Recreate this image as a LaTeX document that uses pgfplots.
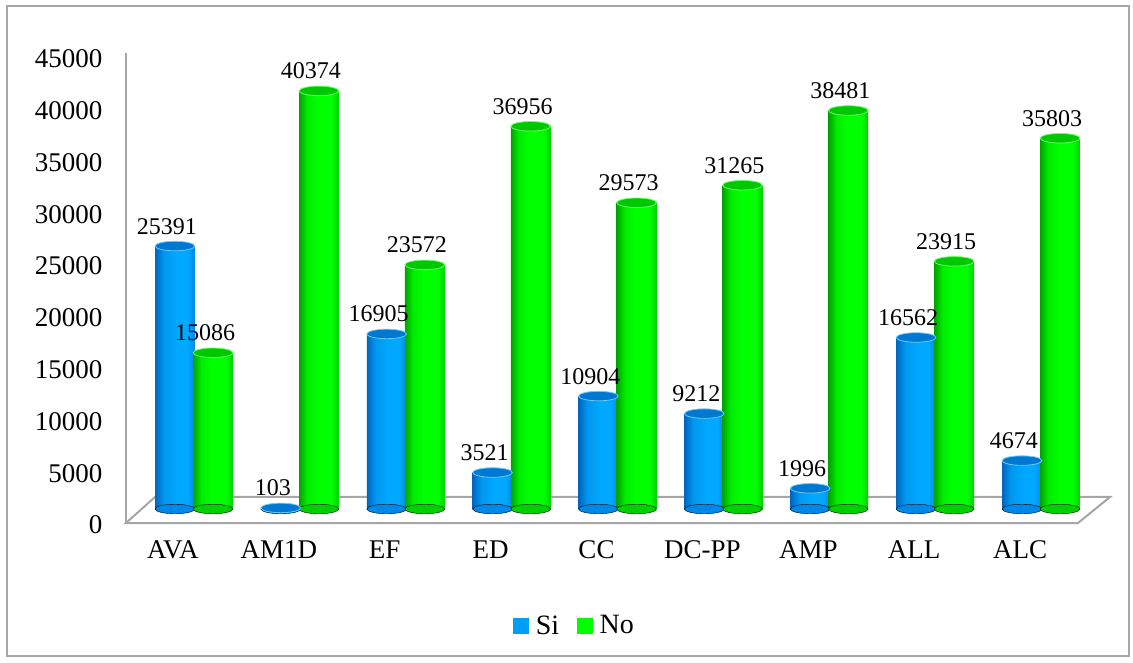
\documentclass[border=0pt]{standalone}
\usepackage{fontspec}
\setmainfont{Liberation Serif}
\usepackage{pgfplots}
\pgfplotsset{compat=1.18}
\usepackage{pgfplotstable}

% cylinder shades: left edge, highlight, right edge, top cap
\definecolor{siL}{HTML}{0066C0}
\definecolor{siM}{HTML}{00A8FF}
\definecolor{siR}{HTML}{0088E8}
\definecolor{siTop}{HTML}{0078D2}
\definecolor{noL}{HTML}{00A400}
\definecolor{noM}{HTML}{00FF00}
\definecolor{noR}{HTML}{00D000}
\definecolor{noTop}{HTML}{00C800}
\definecolor{framegray}{HTML}{A6A6A6}

% round look of the bars: dark left rim, broad highlight, darker right rim
\pgfdeclarehorizontalshading{sicyl}{100bp}{color(0bp)=(siL); color(25bp)=(siL);
  color(36bp)=(siM!75!siL); color(52bp)=(siM); color(66bp)=(siM);
  color(75bp)=(siR); color(100bp)=(siR)}
\pgfdeclarehorizontalshading{nocyl}{100bp}{color(0bp)=(noL); color(25bp)=(noL);
  color(35bp)=(noM!80!noL); color(48bp)=(noM); color(66bp)=(noM);
  color(75bp)=(noR); color(100bp)=(noR)}

\pgfplotstableread{
x cat Si No
0 AVA 25391 15086
1 AM1D 103 40374
2 EF 16905 23572
3 ED 3521 36956
4 CC 10904 29573
5 DC-PP 9212 31265
6 AMP 1996 38481
7 ALL 16562 23915
8 ALC 4674 35803
}\datatable

\newcommand{\bigfont}{\fontsize{27}{30}\selectfont}
\newcommand{\lblfont}{\fontsize{24}{26}\selectfont}

\begin{document}
\begin{tikzpicture}[x=1pt,y=1pt]
\useasboundingbox (0,0) rectangle (1133,662);
% outer chart frame
\draw[framegray, line width=1.3pt] (7,6) rectangle (1129,656);
% floor of the plot area and the vertical axis edge
\draw[framegray, line width=2pt, fill=white]
  (126,139) -- (1078,139) -- (1110,165) -- (155,165) -- cycle;
\draw[framegray, line width=1.6pt] (126,139) -- (126,609);

\begin{axis}[
  at={(141pt,153pt)}, anchor=south west,
  scale only axis, width=953pt, height=466pt,
  xmin=-0.5, xmax=8.5, ymin=0, ymax=45000,
  clip=false,
  axis line style={draw=none}, tick style={draw=none},
  xtick={0,...,8},
  xticklabels={AVA,AM1D,EF,ED,CC,DC-PP,AMP,ALL,ALC},
  ytick={0,5000,...,45000},
  yticklabel={\pgfmathprintnumber{\tick}},
  scaled y ticks=false,
  /pgf/number format/fixed,
  /pgf/number format/1000 sep={},
  /pgf/number format/assume math mode=true,
  tick label style={font=\bigfont, text=black},
  xticklabel style={xshift=-21pt, yshift=-28pt},
  yticklabel style={xshift=-35pt, yshift=-16pt},
  nodes near coords style={font=\lblfont, text=black, anchor=south, yshift=8pt, xshift=-8pt},
  legend style={at={(0.455,-0.25)}, anchor=center, draw=none, fill=none,
    legend columns=2, font=\fontsize{28}{30}\selectfont,
    /tikz/every even column/.append style={column sep=16pt}},
]

% bases of the cylinders
\addplot[only marks, mark=*, mark size=19.8pt, forget plot,
  mark options={yscale=0.24, fill=siR, draw=none}]
  table[x expr=\thisrow{x}-0.18, y expr=0] {\datatable};
\addplot[only marks, mark=*, mark size=19.8pt, forget plot,
  mark options={yscale=0.24, fill=noR, draw=none}]
  table[x expr=\thisrow{x}+0.18, y expr=0] {\datatable};

% cylinder bodies, one plot per category so each gets its own shading
\pgfplotsinvokeforeach{0,...,8}{
  \addplot[ybar, bar width=0.375, bar shift=-0.18, draw=none, forget plot,
    shade, shading=sicyl, restrict x to domain=#1:#1]
    table[x=x, y=Si] {\datatable};
  \addplot[ybar, bar width=0.375, bar shift=0.18, draw=none, forget plot,
    shade, shading=nocyl, restrict x to domain=#1:#1]
    table[x=x, y=No] {\datatable};
}

% top caps, carrying the value labels
\addplot[only marks, mark=*, mark size=19.8pt, forget plot,
  mark options={yscale=0.24, fill=siTop, draw=siM!60!white, line width=0.8pt},
  nodes near coords]
  table[x expr=\thisrow{x}-0.18, y=Si] {\datatable};
\addplot[only marks, mark=*, mark size=19.8pt, forget plot,
  mark options={yscale=0.24, fill=noTop, draw=noM!60!white, line width=0.8pt},
  nodes near coords]
  table[x expr=\thisrow{x}+0.18, y=No] {\datatable};

\addlegendimage{legend image code/.code={\fill[siM!85!siL] (0pt,-7.5pt) rectangle (15pt,7.5pt); \path (20pt,0pt);}}
\addlegendentry{Si}
\addlegendimage{legend image code/.code={\fill[noM] (0pt,-7.5pt) rectangle (15pt,7.5pt); \path (20pt,0pt);}}
\addlegendentry{No}
\end{axis}
\end{tikzpicture}
\end{document}
